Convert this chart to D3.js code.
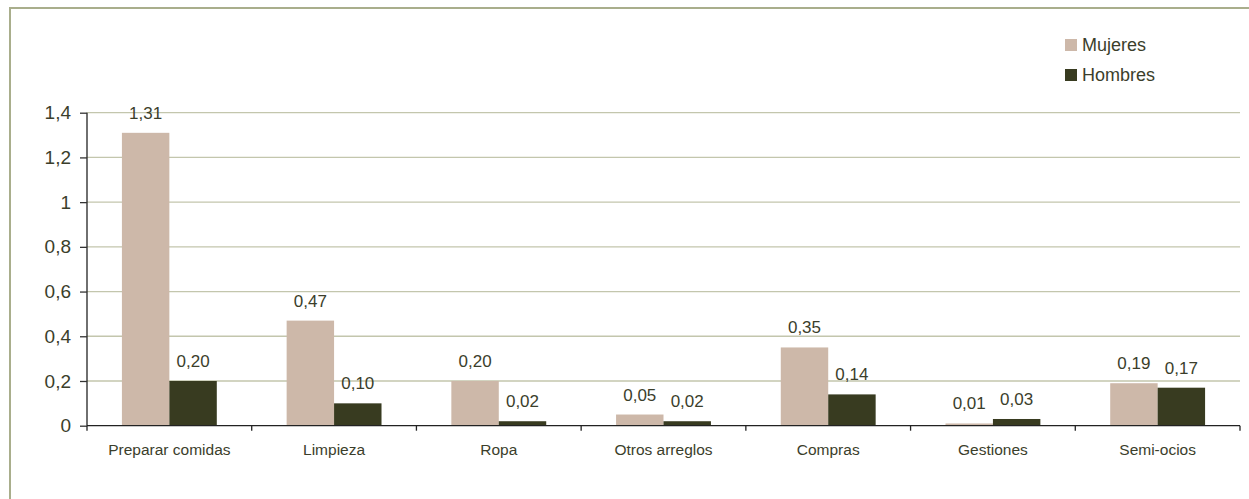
<!DOCTYPE html>
<html><head><meta charset="utf-8">
<script src="https://cdn.jsdelivr.net/npm/d3@7"></script>
<style>body{margin:0;background:#fff;} svg{display:block;font-family:"Liberation Sans",Arial,sans-serif;}</style>
</head><body>
<svg id="c" width="1249" height="499"></svg>
<script>
const categories = ["Preparar comidas","Limpieza","Ropa","Otros arreglos","Compras","Gestiones","Semi-ocios"];
const series = ["Mujeres","Hombres"];
const mujeres = [1.31,0.47,0.20,0.05,0.35,0.01,0.19];
const hombres = [0.20,0.10,0.02,0.02,0.14,0.03,0.17];
const yTicks = [0,0.2,0.4,0.6,0.8,1,1.2,1.4];
const colors = {Mujeres:"#cdb8a9", Hombres:"#383b20"};
const textColor = "#3b3e2b";
const fmt = v => String(v).replace(".", ",");
const fmt2 = v => v.toFixed(2).replace(".", ",");

(function(){
const svg = d3.select("#c");
svg.append("rect").attr("x",10).attr("y",8).attr("width",1260).attr("height",520)
  .attr("fill","none").attr("stroke","#a9ae8c").attr("stroke-width",2);

const pLeft=87, pRight=1240, pTop=112.7, pBottom=425.7;
const y = d3.scaleLinear().domain([0,1.4]).range([pBottom, pTop]);
const x0 = d3.scaleBand().domain(categories).range([pLeft,pRight]).padding(0);
const bw = x0.bandwidth();
const x1 = d3.scaleBand().domain(series).range([bw*0.212, bw*0.788]).padding(0);

svg.append("g").selectAll("line").data(yTicks.filter(t=>t>0)).join("line")
  .attr("x1",pLeft).attr("x2",pRight).attr("y1",d=>y(d)).attr("y2",d=>y(d))
  .attr("stroke","#c3c6ad").attr("stroke-width",1.3);

const data = categories.map((c,i)=>({cat:c, vals:[{s:"Mujeres",v:mujeres[i]},{s:"Hombres",v:hombres[i]}]}));

const g = svg.append("g").selectAll("g").data(data).join("g")
  .attr("transform", d=>`translate(${x0(d.cat)},0)`);
g.selectAll("rect").data(d=>d.vals).join("rect")
  .attr("x",d=>x1(d.s)).attr("width",x1.bandwidth())
  .attr("y",d=>y(d.v)).attr("height",d=>y(0)-y(d.v))
  .attr("fill",d=>colors[d.s]);
g.selectAll("text").data(d=>d.vals).join("text")
  .attr("x",d=>x1(d.s)+x1.bandwidth()/2).attr("y",d=>y(d.v)-14)
  .attr("text-anchor","middle").attr("font-size",17).attr("fill",textColor)
  .text(d=>fmt2(d.v));

const yAxis = d3.axisLeft(y).tickValues(yTicks).tickFormat(fmt).tickSize(7).tickPadding(9);
const ya = svg.append("g").attr("transform",`translate(${pLeft},0)`).call(yAxis);
ya.select(".domain").attr("stroke","#222").attr("stroke-width",1.3).attr("d",`M0,${pTop}V${pBottom}`);
ya.selectAll(".tick line").attr("stroke","#333").attr("stroke-width",1.3);
ya.selectAll(".tick text").attr("font-size",19).attr("fill",textColor).attr("font-family","Liberation Sans, Arial, sans-serif");

svg.append("line").attr("x1",pLeft).attr("x2",pRight).attr("y1",pBottom).attr("y2",pBottom)
  .attr("stroke","#222").attr("stroke-width",1.3);
const bounds = categories.map(c=>x0(c)).concat([pRight]);
svg.append("g").selectAll("line").data(bounds).join("line")
  .attr("x1",d=>d).attr("x2",d=>d).attr("y1",pBottom).attr("y2",pBottom+5)
  .attr("stroke","#222").attr("stroke-width",1.3);
svg.append("g").selectAll("text").data(categories).join("text")
  .attr("x",d=>x0(d)+bw/2).attr("y",455).attr("text-anchor","middle")
  .attr("font-size",15.5).attr("fill",textColor).text(d=>d);

const lg = svg.append("g").selectAll("g").data(series).join("g")
  .attr("transform",(d,i)=>`translate(1065,${39+i*30})`);
lg.append("rect").attr("width",12).attr("height",12).attr("fill",d=>colors[d]);
lg.append("text").attr("x",17).attr("y",12).attr("font-size",18).attr("fill",textColor).text(d=>d);
})();
</script>
</body></html>
